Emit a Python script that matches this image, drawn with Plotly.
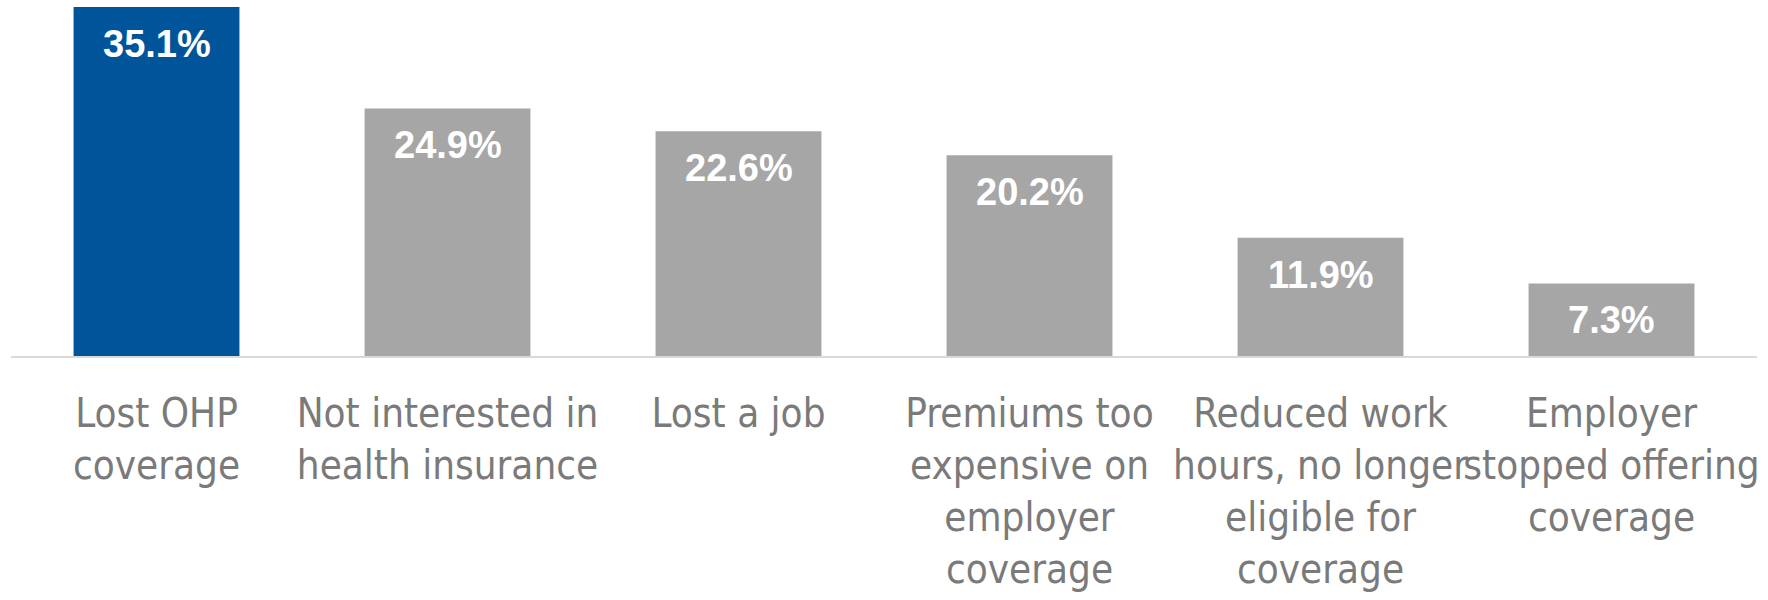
import plotly.graph_objects as go

categories = [
    "Lost OHP<br>coverage",
    "Not interested in<br>health insurance",
    "Lost a job",
    "Premiums too<br>expensive on<br>employer<br>coverage",
    "Reduced work<br>hours, no longer<br>eligible for<br>coverage",
    "Employer<br>stopped offering<br>coverage",
]
values = [35.1, 24.9, 22.6, 20.2, 11.9, 7.3]
labels = ["35.1%", "24.9%", "22.6%", "20.2%", "11.9%", "7.3%"]
bar_colors = ["#00559A", "#A6A6A6", "#A6A6A6", "#A6A6A6", "#A6A6A6", "#A6A6A6"]

fig = go.Figure()
fig.add_trace(go.Bar(
    x=categories,
    y=values,
    marker=dict(color=bar_colors, line=dict(width=0)),
    hoverinfo="skip",
))

for c, v, t in zip(categories, values, labels):
    fig.add_annotation(
        x=c, y=v, text=t, showarrow=False,
        yanchor="top", yshift=-14,
        font=dict(family="Liberation Sans, Arial, sans-serif", size=38, color="white", weight="bold"),
    )

fig.update_layout(
    width=1768, height=600,
    margin=dict(l=11, r=11, t=7, b=244),
    plot_bgcolor="white", paper_bgcolor="white",
    bargap=0.43,
    showlegend=False,
    xaxis=dict(
        showgrid=False, showline=True, linecolor="#D9D9D9", linewidth=2,
        ticks="", ticklabelstandoff=21, tickangle=0, automargin=False,
        tickfont=dict(family="DejaVu Sans Condensed, Liberation Sans Narrow, sans-serif", size=40, color="#7A7A7A"),
    ),
    yaxis=dict(range=[0, 35.1], visible=False, showgrid=False, zeroline=False),
)

fig.write_html("out.html")
